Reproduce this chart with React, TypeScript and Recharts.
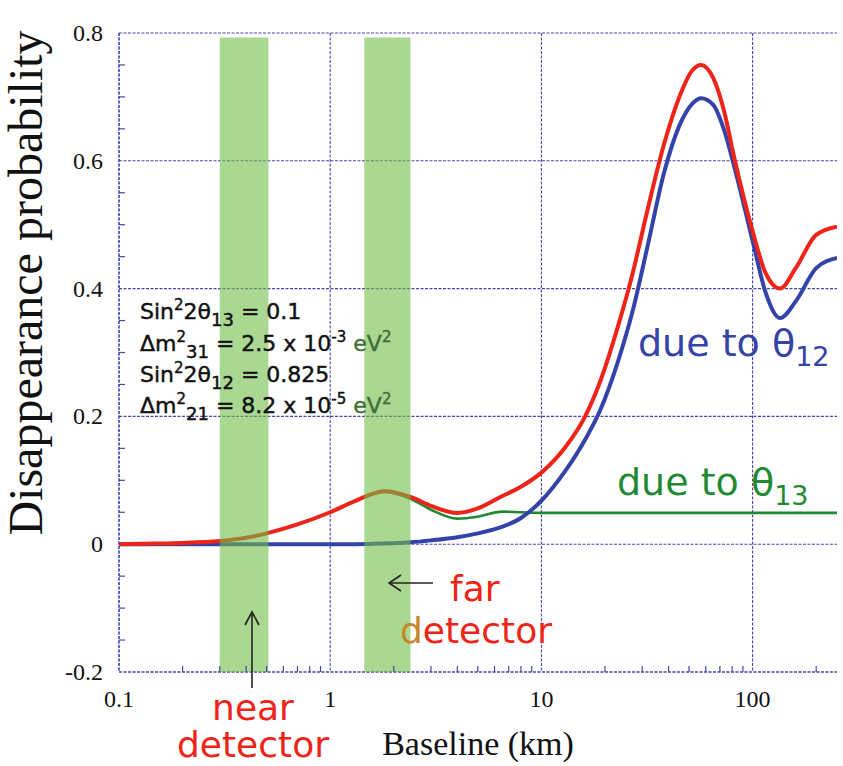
import React from 'react';
import { LineChart, Line, XAxis, YAxis, CartesianGrid, ReferenceArea } from 'recharts';

// baseline distance (km) and disappearance probabilities
const baselineKm = [0.1, 0.15, 0.2, 0.3, 0.4, 0.5, 0.7, 1, 1.3, 1.8, 2.4, 3, 4, 5, 6.5, 8, 10, 13, 16, 19, 23, 27, 32, 38, 45, 52, 57, 65, 73, 82, 100, 115, 135, 160, 200, 251];
const totalProb = [0, 0.001, 0.002, 0.005, 0.01, 0.017, 0.031, 0.05, 0.067, 0.083, 0.074, 0.06, 0.049, 0.056, 0.075, 0.09, 0.112, 0.152, 0.198, 0.255, 0.34, 0.423, 0.527, 0.625, 0.7, 0.742, 0.75, 0.73, 0.68, 0.604, 0.49, 0.425, 0.4, 0.432, 0.484, 0.497];
const theta12Prob = [0, 0, 0, 0, 0, 0, 0, 0, 0, 0.001, 0.003, 0.006, 0.011, 0.017, 0.027, 0.041, 0.068, 0.115, 0.162, 0.21, 0.285, 0.364, 0.47, 0.58, 0.655, 0.69, 0.698, 0.688, 0.65, 0.59, 0.475, 0.395, 0.354, 0.38, 0.432, 0.448];
const theta13Prob = [0, 0.001, 0.002, 0.005, 0.01, 0.017, 0.031, 0.05, 0.067, 0.082, 0.071, 0.054, 0.04, 0.043, 0.051, 0.05, 0.049, 0.049, 0.049, 0.049, 0.049, 0.049, 0.049, 0.049, 0.049, 0.049, 0.049, 0.049, 0.049, 0.049, 0.049, 0.049, 0.049, 0.049, 0.049, 0.049];

const majorKm = [0.1, 1, 10, 100];
const minorKm = [0.2, 0.3, 0.4, 0.5, 0.6, 0.7, 0.8, 0.9, 2, 3, 4, 5, 6, 7, 8, 9, 20, 30, 40, 50, 60, 70, 80, 90, 200];
const majorP = [-0.2, 0, 0.2, 0.4, 0.6, 0.8];
const minorP = [-0.15, -0.1, -0.05, 0.05, 0.1, 0.15, 0.25, 0.3, 0.35, 0.45, 0.5, 0.55, 0.65, 0.7, 0.75];

// detector locations (km)
const nearBand = [0.3, 0.51];
const farBand = [1.45, 2.4];
const bandTop = 0.793;

const rows = baselineKm.map((km, i) => ({
  km,
  total: totalProb[i],
  t12: theta12Prob[i],
  t13: theta13Prob[i],
}));

const AXIS = '#4646aa';
const dotted = { stroke: AXIS, strokeWidth: 1.2, strokeDasharray: '3 1.5' };
const SERIF = "'Liberation Serif', 'Times New Roman', serif";
const COMIC = "'Comic Sans MS', 'DejaVu Sans', sans-serif";
const RED = '#ee2418';
const BLUE = '#3443a8';
const GREEN = '#1f8a32';

const XTick = (props: any) => {
  const { x, y, payload } = props;
  const v = payload.value;
  if (majorKm.includes(v)) {
    return (
      <text x={x} y={y + 27} textAnchor="middle" dominantBaseline="central" fontFamily={SERIF} fontSize={24} fill="#111">
        {String(v)}
      </text>
    );
  }
  return <line x1={x} y1={y} x2={x} y2={y - 6} stroke={AXIS} strokeWidth={1.2} />;
};

const YTick = (props: any) => {
  const { x, y, payload } = props;
  const v = payload.value;
  if (majorP.includes(v)) {
    return (
      <text x={x - 16} y={y} textAnchor="end" dominantBaseline="central" fontFamily={SERIF} fontSize={24} fill="#111">
        {String(v)}
      </text>
    );
  }
  return <line x1={x} y1={y} x2={x + 6} y2={y} stroke={AXIS} strokeWidth={1.2} />;
};

export default function App() {
  return (
    <div style={{ position: 'absolute', left: 0, top: 0, width: 843, height: 766, background: '#fff' }}>
      <LineChart width={843} height={766} data={rows} margin={{ top: 33, right: 6, bottom: 0, left: 0 }}>
        <CartesianGrid
          stroke={AXIS}
          strokeWidth={1.1}
          strokeDasharray="3 1.5"
          horizontalValues={majorP}
          verticalValues={majorKm}
        />
        <XAxis
          dataKey="km"
          type="number"
          scale="log"
          domain={[0.1, 251]}
          allowDataOverflow
          ticks={[...majorKm, ...minorKm]}
          interval={0}
          height={94}
          tickSize={0}
          tickMargin={0}
          tickLine={false}
          axisLine={dotted}
          tick={XTick}
        />
        <XAxis
          xAxisId="top"
          orientation="top"
          mirror
          height={0}
          type="number"
          scale="log"
          domain={[0.1, 251]}
          allowDataOverflow
          ticks={[...majorKm, ...minorKm]}
          interval={0}
          tickSize={6}
          tick={false}
          tickLine={{ stroke: AXIS, strokeWidth: 1.2 }}
          axisLine={dotted}
        />
        <YAxis
          type="number"
          domain={[-0.2, 0.8]}
          allowDataOverflow
          ticks={[...majorP, ...minorP]}
          interval={0}
          width={119}
          tickSize={0}
          tickMargin={0}
          tickLine={false}
          axisLine={dotted}
          tick={YTick}
        />
        <YAxis
          yAxisId="right"
          orientation="right"
          mirror
          width={0}
          type="number"
          domain={[-0.2, 0.8]}
          allowDataOverflow
          ticks={[...majorP, ...minorP]}
          interval={0}
          tickSize={6}
          tick={false}
          tickLine={{ stroke: AXIS, strokeWidth: 1.2 }}
          axisLine={dotted}
        />
        <Line type="monotone" dataKey="t13" stroke={GREEN} strokeWidth={2.6} dot={false} isAnimationActive={false} />
        <Line type="monotone" dataKey="t12" stroke={BLUE} strokeWidth={4} dot={false} isAnimationActive={false} />
        <Line type="monotone" dataKey="total" stroke={RED} strokeWidth={4} dot={false} isAnimationActive={false} />
        <ReferenceArea x1={nearBand[0]} x2={nearBand[1]} y1={-0.2} y2={bandTop} fill="#72bc47" fillOpacity={0.6} stroke="none" {...({ zIndex: 1500 } as any)} />
        <ReferenceArea x1={farBand[0]} x2={farBand[1]} y1={-0.2} y2={bandTop} fill="#72bc47" fillOpacity={0.6} stroke="none" {...({ zIndex: 1500 } as any)} />
      </LineChart>

      <svg width={843} height={766} style={{ position: 'absolute', left: 0, top: 0, pointerEvents: 'none' }}>
        <text transform="translate(42,283) rotate(-90)" textAnchor="middle" fontFamily={SERIF} fontSize={48} fill="#111">
          Disappearance probability
        </text>
        <text x={478} y={755} textAnchor="middle" fontFamily={SERIF} fontSize={34} fill="#111">
          Baseline (km)
        </text>

        <g fontFamily={COMIC} fontSize={22} fill="#111" stroke="#111" strokeWidth={0.45}>
          <text x={140} y={319}>
            Sin<tspan dy={-9} fontSize={15}>2</tspan><tspan dy={9}>2θ</tspan>
            <tspan dy={7} fontSize={18}>13</tspan><tspan dy={-7}> = 0.1</tspan>
          </text>
          <text x={140} y={351}>
            Δm<tspan dy={-9} fontSize={15}>2</tspan><tspan dy={16} fontSize={18}>31</tspan>
            <tspan dy={-7}> = 2.5 x 10</tspan><tspan dy={-9} fontSize={15}>-3</tspan>
            <tspan dy={9} fill="#3f6f35" stroke="#3f6f35"> eV</tspan><tspan dy={-9} fontSize={15} fill="#3f6f35" stroke="#3f6f35">2</tspan>
          </text>
          <text x={140} y={382}>
            Sin<tspan dy={-9} fontSize={15}>2</tspan><tspan dy={9}>2θ</tspan>
            <tspan dy={7} fontSize={18}>12</tspan><tspan dy={-7}> = 0.825</tspan>
          </text>
          <text x={140} y={413}>
            Δm<tspan dy={-9} fontSize={15}>2</tspan><tspan dy={16} fontSize={18}>21</tspan>
            <tspan dy={-7}> = 8.2 x 10</tspan><tspan dy={-9} fontSize={15}>-5</tspan>
            <tspan dy={9} fill="#3f6f35" stroke="#3f6f35"> eV</tspan><tspan dy={-9} fontSize={15} fill="#3f6f35" stroke="#3f6f35">2</tspan>
          </text>
        </g>

        <text x={638} y={356} fontFamily={COMIC} fontSize={38} fill={BLUE}>
          due to θ<tspan dy={10} fontSize={27}>12</tspan>
        </text>
        <text x={617} y={495} fontFamily={COMIC} fontSize={38} fill={GREEN}>
          due to θ<tspan dy={10} fontSize={27}>13</tspan>
        </text>

        <g fontFamily={COMIC} fontSize={36} fill={RED}>
          <text x={450} y={601}>far</text>
          <text x={400} y={643}>
            <tspan fill="#c8862a">d</tspan>etector
          </text>
          <text x={253} y={720} textAnchor="middle">near</text>
          <text x={253} y={757} textAnchor="middle">detector</text>
        </g>

        <g stroke="#222" strokeWidth={1.6} fill="none">
          <line x1={433} y1={583} x2={389} y2={583} />
          <polyline points="401,575 389,583 401,591" />
          <line x1={252} y1={688} x2={252} y2={612} />
          <polyline points="245,625 252,612 259,625" />
        </g>
      </svg>
    </div>
  );
}
